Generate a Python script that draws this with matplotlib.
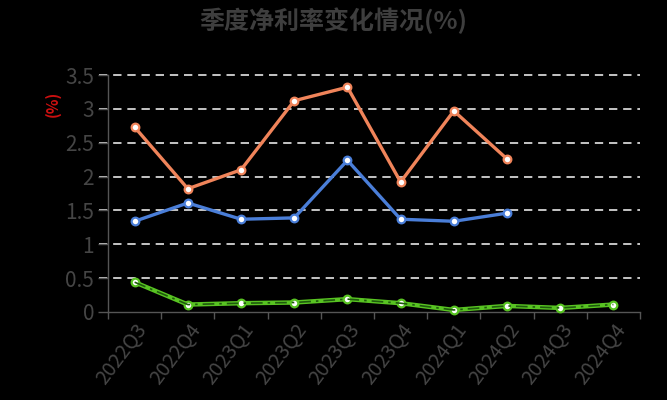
import matplotlib
matplotlib.use("Agg")
import matplotlib.pyplot as plt

plt.rcParams['font.family'] = ['Noto Sans CJK SC', 'DejaVu Sans']

quarters = ['2022Q3', '2022Q4', '2023Q1', '2023Q2', '2023Q3',
            '2023Q4', '2024Q1', '2024Q2', '2024Q3', '2024Q4']
orange_vals = [2.73, 1.82, 2.10, 3.12, 3.32, 1.92, 2.97, 2.26]
blue_vals = [1.34, 1.61, 1.37, 1.39, 2.24, 1.37, 1.34, 1.46]
green_vals = [0.44, 0.11, 0.13, 0.14, 0.19, 0.13, 0.03, 0.09, 0.06, 0.11]
yticks = [0, 0.5, 1, 1.5, 2, 2.5, 3, 3.5]
ytick_labels = ['0', '0.5', '1', '1.5', '2', '2.5', '3', '3.5']

fig = plt.figure(figsize=(6.67, 4), dpi=100, facecolor='black')
ax = fig.add_axes([0.162, 0.22, 0.7975, 0.5925], facecolor='black')

x = list(range(len(quarters)))
ax.set_xlim(-0.5, len(quarters) - 0.5)
ax.set_ylim(0, 3.5)

for v in yticks[1:]:
    ax.axhline(v, xmin=-0.017, color='#e6e6e6', lw=1.2, ls=(0, (5, 3.5)),
               clip_on=False, zorder=1)

mk = dict(marker='o', markersize=5.5, markerfacecolor='white', markeredgewidth=1.6)
ax.plot(x[:len(orange_vals)], orange_vals, color='#f0845a', lw=2.4,
        markeredgecolor='#f0845a', zorder=3, **mk)
ax.plot(x[:len(blue_vals)], blue_vals, color='#4a7ed8', lw=2.4,
        markeredgecolor='#4a7ed8', zorder=3, **mk)
ax.plot(x, green_vals, color='#58c322', lw=3.2, markeredgecolor='#58c322',
        zorder=3, clip_on=False, **mk)
ax.plot(x, green_vals, color='#1e5a0c', lw=1.2, ls=(0, (7, 3, 1.5, 3)),
        zorder=4, clip_on=False)

ax.set_yticks(yticks)
ax.set_yticklabels(ytick_labels, fontsize=15, color='#454545', fontweight='light')
ax.set_xticks([i - 0.5 for i in range(len(quarters) + 1)], minor=False)
ax.set_xticklabels([])
ax.set_xticks(x, minor=True)
ax.set_xticklabels(quarters, minor=True, rotation=53, ha='right', va='top',
                   rotation_mode='anchor', fontsize=14.5, color='#454545',
                   fontweight='light')
ax.tick_params(axis='x', which='minor', length=0, pad=5)
ax.tick_params(axis='x', which='major', length=5, color='#555555', width=1)
ax.tick_params(axis='y', length=7, color='#555555', width=1, pad=3)

for s in ['top', 'right']:
    ax.spines[s].set_visible(False)
for s in ['left', 'bottom']:
    ax.spines[s].set_color('#555555')
    ax.spines[s].set_linewidth(1)

ax.set_ylabel('(%)', color='#cc1010', fontsize=11, fontweight='semibold')
ax.yaxis.set_label_coords(-0.088, 0.88)

fig.text(0.5, 0.948, '季度净利率变化情况(%)', ha='center', va='center',
         fontsize=18, fontweight='bold', color='#3e3e3e')

fig.savefig('out.png', dpi=100, facecolor='black')
